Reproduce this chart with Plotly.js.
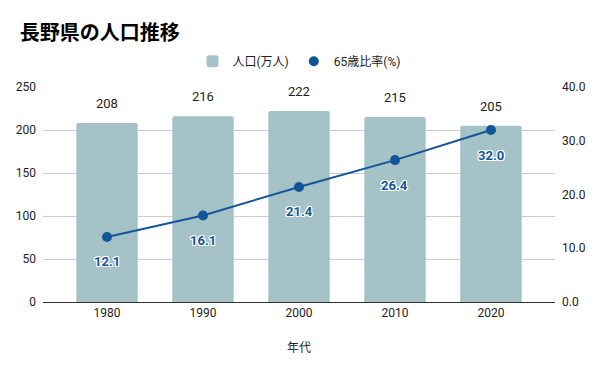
<!DOCTYPE html>
<html><head><meta charset="utf-8">
<script src="https://cdn.plot.ly/plotly-3.0.1.min.js"></script>
<style>html,body{margin:0;padding:0;background:#fff}#c{width:600px;height:371px}</style>
</head><body><div id="c"></div>
<script>
const years = ['1980','1990','2000','2010','2020'];
const population = [208,216,222,215,205];
const elderlyRate = [12.1,16.1,21.4,26.4,32.0];
const popName = '人口(万人)';
const rateName = '65歳比率(%)';
const leftTicks = [0,50,100,150,200,250];
const rightTicks = [0,10,20,30,40];

const FONT = 'Roboto, "Noto Sans CJK JP", sans-serif';
const barColor = '#a5c3c7';
const lineColor = '#11569a';

const traces = [
  {type:'bar', x:years, y:population, name:popName, marker:{color:barColor, cornerradius:2}, width:0.64, hoverinfo:'none'},
  {type:'scatter', mode:'lines', x:years, y:elderlyRate, yaxis:'y2', line:{color:lineColor, width:2}, showlegend:false, hoverinfo:'none'},
  {type:'scatter', mode:'markers', x:years, y:elderlyRate, yaxis:'y2', name:rateName, marker:{color:lineColor, size:10}, hoverinfo:'none'}
];

const annotations = [];
years.forEach((yr,i)=>{
  annotations.push({x:i, y:population[i], xref:'x', yref:'y', text:String(population[i]), showarrow:false, yanchor:'bottom', yshift:10, font:{family:FONT, size:13, color:'#222'}});
  annotations.push({x:i, y:elderlyRate[i], xref:'x', yref:'y2', text:'<b>'+elderlyRate[i].toFixed(1)+'</b>', showarrow:false, yanchor:'middle', yshift:-25,
    font:{family:FONT, size:13, color:lineColor, shadow:'1px 1px 0 #fff, -1px -1px 0 #fff, 1px -1px 0 #fff, -1px 1px 0 #fff, 0 1px 0 #fff, 0 -1px 0 #fff, 1px 0 0 #fff, -1px 0 0 #fff'}});
});

const layout = {
  width:600, height:371,
  margin:{l:43, r:45, t:87, b:69},
  paper_bgcolor:'#fff', plot_bgcolor:'#fff',
  font:{family:FONT, size:12, color:'#222'},
  title:{text:'<b>長野県の人口推移</b>', x:0.033, xanchor:'left', y:0.91, yanchor:'middle', font:{family:FONT, size:20, color:'#000'}},
  showlegend:true,
  legend:{orientation:'h', x:0.5, xanchor:'center', y:1.12, yanchor:'middle', font:{family:FONT, size:12, color:'#222'}},
  xaxis:{type:'category', range:[-0.667,4.667], showgrid:false, showline:true, linecolor:'#333', linewidth:1, ticks:'', tickfont:{size:12, color:'#222'},
    title:{text:'年代', font:{size:12, color:'#222'}, standoff:24}},
  yaxis:{range:[0,250], tickvals:leftTicks, ticktext:leftTicks.map(String), gridcolor:'#cccccc', zeroline:false, showline:false, ticks:'', tickfont:{size:12, color:'#222'}, ticklabelstandoff:6},
  yaxis2:{overlaying:'y', side:'right', range:[0,40], tickvals:rightTicks, ticktext:rightTicks.map(v=>v.toFixed(1)), showgrid:false, zeroline:false, ticks:'', tickfont:{size:12, color:'#222'}, ticklabelstandoff:6},
  annotations:annotations,
  bargap:0.36
};
Plotly.newPlot('c', traces, layout, {displayModeBar:false, staticPlot:true});
</script></body></html>
